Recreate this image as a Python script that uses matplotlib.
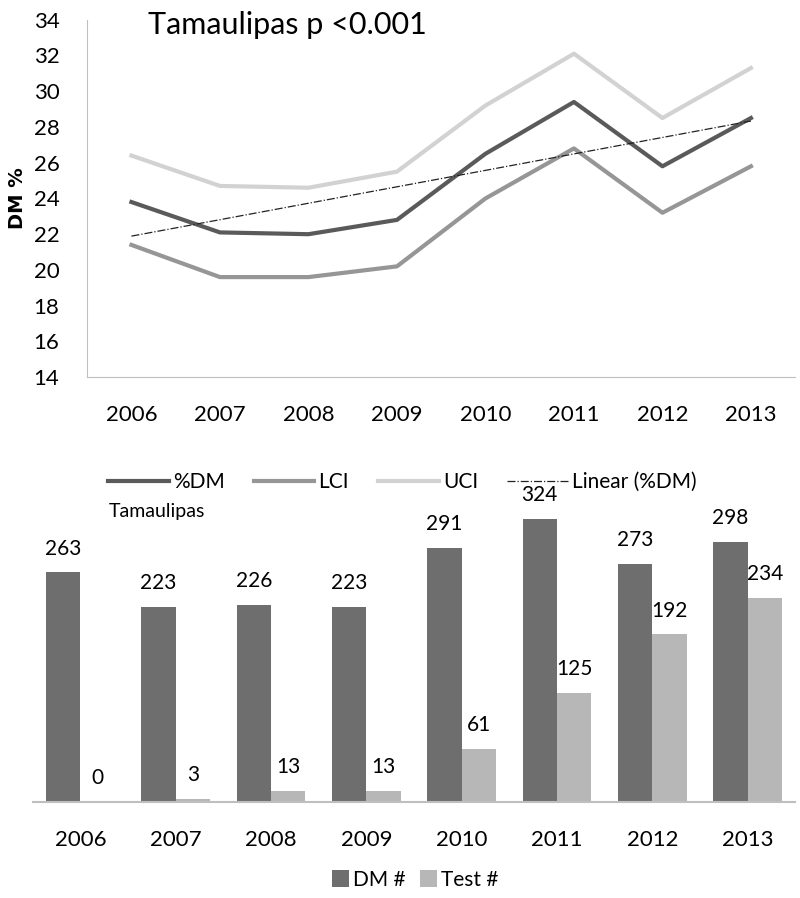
import matplotlib
matplotlib.use('Agg')
import matplotlib.pyplot as plt
import numpy as np

plt.rcParams['font.family'] = ['Lato', 'DejaVu Sans']

years = ['2006', '2007', '2008', '2009', '2010', '2011', '2012', '2013']
dm_pct = [23.8, 22.1, 22.0, 22.8, 26.5, 29.4, 25.8, 28.5]
lci = [21.4, 19.6, 19.6, 20.2, 24.0, 26.8, 23.2, 25.8]
uci = [26.4, 24.7, 24.6, 25.5, 29.2, 32.1, 28.5, 31.3]
dm_count = [263, 223, 226, 223, 291, 324, 273, 298]
test_count = [0, 3, 13, 13, 61, 125, 192, 234]

c_dm = '#5a5a5a'
c_lci = '#969696'
c_uci = '#d2d2d2'
c_bar1 = '#6e6e6e'
c_bar2 = '#b7b7b7'
spine_c = '#bfbfbf'

fig = plt.figure(figsize=(8, 8.98), dpi=100)

# top: line chart
ax1 = fig.add_axes([0.109, 0.580, 0.885, 0.398])
x = np.arange(len(years))
ax1.plot(x, dm_pct, color=c_dm, lw=3, label='%DM')
ax1.plot(x, lci, color=c_lci, lw=3, label='LCI')
ax1.plot(x, uci, color=c_uci, lw=3, label='UCI')
k, b = np.polyfit(x, dm_pct, 1)
ax1.plot(x, k * x + b, color='#222222', lw=0.9, ls='-.', label='Linear (%DM)')
ax1.set_xlim(-0.5, 7.5)
ax1.set_ylim(14, 34)
ax1.set_yticks(range(14, 35, 2))
ax1.set_xticks(x)
ax1.set_xticklabels(years)
ax1.tick_params(axis='both', length=0, labelsize=16)
ax1.tick_params(axis='x', pad=20)
ax1.tick_params(axis='y', pad=20)
for s in ['top', 'right']:
    ax1.spines[s].set_visible(False)
for s in ['left', 'bottom']:
    ax1.spines[s].set_color(spine_c)
ax1.set_ylabel('DM %', fontsize=14, fontweight='bold', family='DejaVu Sans')
ax1.yaxis.set_label_coords(-0.085, 0.5)
ax1.text(0.086, 0.985, 'Tamaulipas p <0.001', transform=ax1.transAxes,
         fontsize=22, va='center', ha='left')
fig.legend(*ax1.get_legend_handles_labels(), loc='center', ncol=4,
           bbox_to_anchor=(0.503, 0.463), frameon=False, fontsize=15,
           handlelength=2.9, columnspacing=1.4, handletextpad=0.2)

# bottom: bar chart
ax2 = fig.add_axes([0.041, 0.107, 0.953, 0.340])
w = 0.36
ax2.bar(x - w / 2, dm_count, w, color=c_bar1, label='DM #')
ax2.bar(x + w / 2, test_count, w, color=c_bar2, label='Test #')
for i in range(len(years)):
    ax2.annotate(str(dm_count[i]), (x[i] - w / 2, dm_count[i]), xytext=(0, 10),
                 textcoords='offset points', ha='center', va='bottom', fontsize=15)
    ax2.annotate(str(test_count[i]), (x[i] + w / 2, test_count[i]), xytext=(0, 10),
                 textcoords='offset points', ha='center', va='bottom', fontsize=15)
ax2.set_xlim(-0.5, 7.5)
ax2.set_ylim(0, 350)
ax2.set_yticks([])
ax2.set_xticks(x)
ax2.set_xticklabels(years)
ax2.tick_params(axis='x', length=0, labelsize=16, pad=20)
for s in ['top', 'right', 'left']:
    ax2.spines[s].set_visible(False)
ax2.spines['bottom'].set_color(spine_c)
ax2.spines['bottom'].set_linewidth(1.5)
ax2.text(0.10, 0.95, 'Tamaulipas', transform=ax2.transAxes, fontsize=14,
         va='center', ha='left')
fig.legend(*ax2.get_legend_handles_labels(), loc='center', ncol=2,
           bbox_to_anchor=(0.519, 0.02), frameon=False, fontsize=15,
           handlelength=0.8, handleheight=0.9, columnspacing=0.7, handletextpad=0.2)

fig.savefig('out.png', dpi=100)
